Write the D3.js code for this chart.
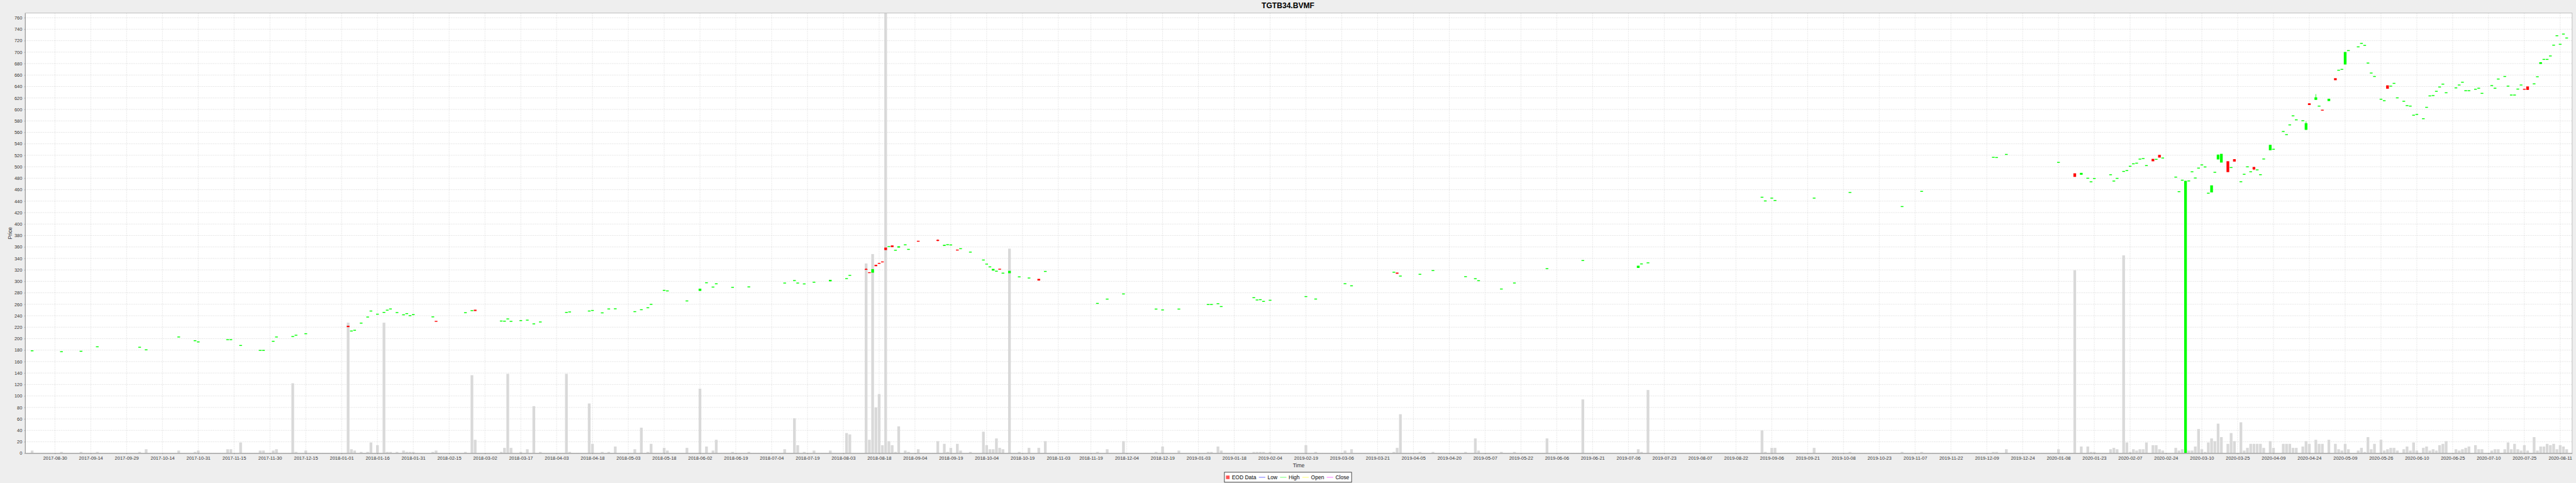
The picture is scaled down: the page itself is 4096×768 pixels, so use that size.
<!DOCTYPE html>
<html><head><meta charset="utf-8">
<script src="https://cdn.jsdelivr.net/npm/d3@7"></script>
<style>html,body{margin:0;padding:0;background:#eeeeee;overflow:hidden}</style>
</head><body><div id="chart"></div>
<script>
const chartTitle = "TGTB34.BVMF";
const xAxisTitle = "Time";
const yAxisTitle = "Price";
const legendItems = ["EOD Data", "Low", "High", "Open", "Close"];

const dates = [
"2017-08-21","2017-09-01","2017-09-11","2017-09-18","2017-10-05","2017-10-09","2017-10-23","2017-10-30","2017-10-31","2017-11-13",
"2017-11-14","2017-11-17","2017-11-27","2017-11-28","2017-12-01","2017-12-04","2017-12-11","2017-12-12","2017-12-15","2018-01-03",
"2018-01-04","2018-01-05","2018-01-09","2018-01-11","2018-01-12","2018-01-16","2018-01-18","2018-01-19","2018-01-22","2018-01-24",
"2018-01-26","2018-01-29","2018-01-30","2018-01-31","2018-02-08","2018-02-09","2018-02-22","2018-02-26","2018-02-27","2018-03-09",
"2018-03-12","2018-03-13","2018-03-14","2018-03-19","2018-03-21","2018-03-23","2018-03-27","2018-04-06","2018-04-09","2018-04-17",
"2018-04-18","2018-04-23","2018-04-25","2018-04-27","2018-05-07","2018-05-09","2018-05-11","2018-05-14","2018-05-18","2018-05-21",
"2018-05-29","2018-06-04","2018-06-06","2018-06-08","2018-06-11","2018-06-18","2018-06-25","2018-07-10","2018-07-13","2018-07-16",
"2018-07-18","2018-07-23","2018-07-30","2018-08-06","2018-08-07","2018-08-14","2018-08-15","2018-08-16","2018-08-17","2018-08-20",
"2018-08-21","2018-08-22","2018-08-23","2018-08-24","2018-08-27","2018-08-28","2018-08-30","2018-08-31","2018-09-05","2018-09-13",
"2018-09-17","2018-09-18","2018-09-19","2018-09-21","2018-09-24","2018-09-27","2018-10-03","2018-10-04","2018-10-05","2018-10-08",
"2018-10-09","2018-10-10","2018-10-11","2018-10-15","2018-10-18","2018-10-23","2018-10-26","2018-10-30","2018-11-21","2018-11-26",
"2018-12-03","2018-12-17","2018-12-19","2018-12-26","2019-01-08","2019-01-09","2019-01-11","2019-01-14","2019-01-28","2019-01-29",
"2019-01-30","2019-01-31","2019-02-04","2019-02-19","2019-02-22","2019-03-07","2019-03-11","2019-03-28","2019-03-29","2019-04-01",
"2019-04-09","2019-04-15","2019-04-29","2019-05-02","2019-05-03","2019-05-14","2019-05-20","2019-06-03","2019-06-18","2019-07-11",
"2019-07-12","2019-07-16","2019-09-03","2019-09-04","2019-09-06","2019-09-09","2019-09-25","2019-10-10","2019-11-01","2019-11-11",
"2019-12-11","2019-12-12","2019-12-17","2020-01-08","2020-01-15","2020-01-17","2020-01-21","2020-01-22","2020-01-23","2020-01-30",
"2020-01-31","2020-02-03","2020-02-05","2020-02-06","2020-02-07","2020-02-10","2020-02-11","2020-02-12","2020-02-13","2020-02-14",
"2020-02-18","2020-02-19","2020-02-20","2020-02-21","2020-02-27","2020-02-28","2020-03-02","2020-03-03","2020-03-04","2020-03-05",
"2020-03-06","2020-03-09","2020-03-10","2020-03-11","2020-03-12","2020-03-13","2020-03-16","2020-03-17","2020-03-18","2020-03-20",
"2020-03-23","2020-03-24","2020-03-26","2020-03-27","2020-03-30","2020-03-31","2020-04-01","2020-04-02","2020-04-03","2020-04-06",
"2020-04-08","2020-04-09","2020-04-14","2020-04-15","2020-04-16","2020-04-17","2020-04-20","2020-04-22","2020-04-23","2020-04-24",
"2020-04-28","2020-04-29","2020-04-30","2020-05-04","2020-05-06","2020-05-07","2020-05-08","2020-05-11","2020-05-12","2020-05-15",
"2020-05-18","2020-05-19","2020-05-20","2020-05-21","2020-05-22","2020-05-26","2020-05-27","2020-05-28","2020-05-29","2020-06-01",
"2020-06-02","2020-06-04","2020-06-05","2020-06-08","2020-06-09","2020-06-10","2020-06-12","2020-06-15","2020-06-16","2020-06-17",
"2020-06-18","2020-06-19","2020-06-22","2020-06-23","2020-06-26","2020-06-29","2020-06-30","2020-07-01","2020-07-02","2020-07-06",
"2020-07-07","2020-07-08","2020-07-13","2020-07-14","2020-07-15","2020-07-17","2020-07-20","2020-07-21","2020-07-22","2020-07-23",
"2020-07-24","2020-07-27","2020-07-28","2020-07-30","2020-07-31","2020-08-03","2020-08-04","2020-08-05","2020-08-06","2020-08-07",
"2020-08-10","2020-08-11","2020-08-12","2020-08-13"];

const open = [
178.8,177.2,178.0,185.8,185.0,180.5,202.9,196.4,194.3,198.2,
198.2,188.1,179.5,179.5,195.4,202.9,203.7,206.0,208.6,222.5,
213.3,214.6,227.1,237.7,248.2,242.7,245.8,249.7,251.8,245.5,
241.6,243.7,240.1,241.9,238.0,230.7,245.3,248.9,250.5,230.7,
230.5,234.4,230.2,231.5,232.3,225.8,229.1,245.8,246.6,248.2,
249.2,245.0,251.8,252.1,247.1,250.5,253.9,259.9,284.3,283.3,
265.8,283.3,297.5,290.0,295.7,289.5,290.3,297.0,301.4,297.0,
295.5,298.5,300.0,304.8,310.5,321.6,315.5,315.1,328.9,331.9,
334.4,358.9,360.6,362.7,354.2,358.9,363.7,355.8,370.5,372.4,
361.8,364.0,363.5,355.1,357.0,351.0,337.2,330.1,325.2,318.8,
317.7,321.7,314.3,314.2,307.8,305.8,304.3,317.3,261.5,269.0,
278.0,251.6,250.1,251.6,259.6,259.6,261.0,256.0,271.5,267.5,
268.0,265.0,267.0,273.4,269.1,295.9,292.2,315.9,315.3,309.2,
312.3,318.8,308.2,304.6,301.1,286.6,297.1,322.1,336.3,323.4,
330.4,332.3,446.8,440.3,445.2,441.1,445.2,455.0,430.5,457.0,
516.4,516.1,521.5,507.6,488.5,486.0,479.9,473.7,479.5,486.0,
475.0,479.7,491.8,493.3,500.8,505.1,506.2,513.3,514.2,502.0,
513.7,512.9,520.7,515.2,481.9,456.5,476.5,0,475.2,491.2,
480.3,497.6,503.2,499.6,453.8,455.2,490.3,512.7,507.3,509.6,
498.6,513.2,473.8,486.8,499.8,491.2,499.5,494.5,486.1,513.5,
528.7,530.5,561.5,556.0,573.0,588.8,581.8,580.3,564.4,610.7,
616.7,605.8,599.2,614.6,654.5,668.4,669.9,678.4,702.7,709.2,
715.2,711.7,680.9,663.5,657.5,617.8,615.2,642.0,640.6,645.5,
620.2,614.2,606.7,605.8,589.9,591.3,583.8,603.7,623.6,624.2,
631.6,639.1,644.1,629.1,637.6,642.6,647.5,632.6,632.6,635.1,
637.0,628.1,641.6,637.0,653.0,657.5,640.6,625.1,625.1,635.5,
642.6,635.6,640.1,644.6,657.0,679.4,687.3,687.3,693.3,712.1,
728.6,713.7,731.5,724.6];

const high = [
178.8,177.2,178.0,185.8,185.0,180.5,202.9,196.4,194.3,198.2,
198.2,188.1,179.5,179.5,195.4,202.9,203.7,206.0,208.6,222.5,
213.3,214.6,227.1,237.7,248.2,242.7,245.8,249.7,251.8,245.5,
241.6,243.7,240.1,241.9,238.0,230.7,245.3,248.9,250.5,230.7,
230.5,234.4,230.2,231.5,232.3,225.8,229.1,245.8,246.6,248.2,
249.2,245.0,251.8,252.1,247.1,250.5,253.9,259.9,284.3,283.3,
265.8,287.2,297.5,290.0,295.7,289.5,290.3,297.0,301.4,297.0,
295.5,298.5,302.6,304.8,310.5,322.9,315.5,321.3,328.9,331.9,
334.4,358.9,360.6,362.7,354.2,361.2,363.7,355.8,370.5,373.2,
363.7,364.0,363.5,355.1,357.0,351.0,337.2,330.1,325.2,321.7,
317.7,321.7,314.3,318.3,307.8,305.8,304.3,317.3,261.5,269.0,
278.0,251.6,250.1,251.6,259.6,259.6,261.0,256.0,271.5,267.5,
268.0,265.0,267.0,273.4,269.1,295.9,292.2,315.9,315.3,309.2,
312.3,318.8,308.2,304.6,301.1,286.6,297.1,322.1,336.3,327.3,
330.4,332.3,446.8,440.3,445.2,441.1,445.2,455.0,430.5,457.0,
516.4,516.1,521.5,507.6,488.5,489.3,479.9,473.7,479.5,486.0,
475.0,479.7,491.8,493.3,500.8,505.1,506.2,513.3,514.2,502.0,
513.7,512.9,520.7,515.2,481.9,456.5,476.5,475.4,475.2,491.2,
480.3,497.6,503.2,499.6,453.8,467.5,490.3,521.2,522.5,509.6,
498.6,513.2,473.8,486.8,499.8,491.2,499.5,494.5,486.1,513.5,
538.2,530.5,561.5,556.0,573.0,588.8,581.8,580.3,579.0,610.7,
626.7,605.8,599.2,618.6,654.5,668.4,669.9,700.2,702.7,709.2,
715.2,711.7,680.9,663.5,657.5,617.8,615.2,642.0,640.6,645.5,
620.2,614.2,606.7,605.8,589.9,591.3,583.8,603.7,623.6,624.2,
631.6,639.1,644.1,629.1,637.6,642.6,647.5,632.6,632.6,635.1,
637.0,628.1,641.6,637.0,653.0,657.5,640.6,625.1,625.1,635.5,
642.6,635.6,640.1,644.6,657.0,682.4,687.3,687.3,693.3,712.1,
728.6,713.7,731.5,724.6];

const low = [
178.8,177.2,178.0,185.8,185.0,180.5,202.9,196.4,194.3,198.2,
198.2,188.1,179.5,179.5,195.4,202.9,203.7,206.0,208.6,220.1,
213.3,214.6,227.1,237.7,248.2,242.7,245.8,249.7,251.8,245.5,
241.6,243.7,240.1,241.9,238.0,229.7,245.3,248.9,248.2,230.7,
230.5,234.4,230.2,231.5,232.3,225.8,229.1,245.8,246.6,248.2,
249.2,245.0,251.8,252.1,247.1,250.5,253.9,259.9,284.3,283.3,
265.8,283.3,297.5,290.0,295.7,289.5,290.3,297.0,301.4,297.0,
295.5,298.5,300.0,304.8,310.5,320.1,314.8,315.1,326.4,330.9,
333.4,354.6,360.6,359.6,354.2,358.9,363.7,355.8,369.5,370.0,
361.8,364.0,363.5,354.1,357.0,351.0,337.2,330.1,325.2,318.8,
317.7,320.7,314.3,314.2,307.8,305.8,301.4,317.3,261.5,269.0,
278.0,251.6,250.1,251.6,259.6,259.6,261.0,256.0,271.5,267.5,
268.0,265.0,267.0,273.4,269.1,295.9,292.2,315.9,313.2,309.2,
312.3,318.8,308.2,304.6,301.1,286.6,297.1,322.1,336.3,323.4,
330.4,332.3,446.8,440.3,445.2,441.1,445.2,455.0,430.5,457.0,
516.4,516.1,521.5,507.6,482.3,486.0,479.9,473.7,479.5,486.0,
475.0,479.7,491.8,493.3,500.8,505.1,506.2,513.3,514.2,502.0,
509.5,512.9,516.0,515.2,481.9,456.5,476.5,0,475.2,491.2,
480.3,497.6,503.2,499.6,453.8,455.2,490.3,512.7,507.3,490.6,
498.6,509.0,473.8,486.8,499.8,491.2,494.1,494.5,486.1,513.5,
528.7,530.5,561.5,556.0,573.0,588.8,581.8,580.3,564.4,607.7,
616.7,605.8,598.2,614.6,651.0,668.4,669.9,678.4,702.7,709.2,
715.2,711.7,680.9,663.5,657.5,617.8,615.2,636.1,640.6,645.5,
620.2,614.2,606.7,605.8,589.9,591.3,583.8,603.7,623.6,624.2,
631.6,639.1,644.1,629.1,637.6,642.6,647.5,632.6,632.6,635.1,
637.0,628.1,641.6,637.0,653.0,657.5,640.6,625.1,625.1,635.5,
642.6,634.6,634.1,644.6,657.0,679.4,687.3,687.3,693.3,712.1,
728.6,713.7,731.5,724.6];

const close = [
178.8,177.2,178.0,185.8,185.0,180.5,202.9,196.4,194.3,198.2,
198.2,188.1,179.5,179.5,195.4,202.9,203.7,206.0,208.6,220.1,
213.3,214.6,227.1,237.7,248.2,242.7,245.8,249.7,251.8,245.5,
241.6,243.7,240.1,241.9,238.0,229.7,245.3,248.9,248.2,230.7,
230.5,234.4,230.2,231.5,232.3,225.8,229.1,245.8,246.6,248.2,
249.2,245.0,251.8,252.1,247.1,250.5,253.9,259.9,284.3,283.3,
265.8,287.2,297.5,290.0,295.7,289.5,290.3,297.0,301.4,297.0,
295.5,298.5,302.6,304.8,310.5,320.1,314.8,321.3,326.4,330.9,
333.4,354.6,360.6,359.6,354.2,361.2,363.7,355.8,369.5,370.5,
363.7,364.0,363.5,354.1,357.0,351.0,337.2,330.1,325.2,321.7,
317.7,320.7,314.3,318.3,307.8,305.8,301.4,317.3,261.5,269.0,
278.0,251.6,250.1,251.6,259.6,259.6,261.0,256.0,271.5,267.5,
268.0,265.0,267.0,273.4,269.1,295.9,292.2,315.9,313.2,309.2,
312.3,318.8,308.2,304.6,301.1,286.6,297.1,322.1,336.3,327.3,
330.4,332.3,446.8,440.3,445.2,441.1,445.2,455.0,430.5,457.0,
516.4,516.1,521.5,507.6,482.3,489.3,479.9,473.7,479.5,486.0,
475.0,479.7,491.8,493.3,500.8,505.1,506.2,513.3,514.2,502.0,
509.5,512.9,516.0,515.2,481.9,456.5,476.5,475.4,475.2,491.2,
480.3,497.6,503.2,499.6,453.8,467.5,490.3,521.2,522.5,490.6,
498.6,509.0,473.8,486.8,499.8,491.2,495.3,494.5,486.1,513.5,
538.2,530.5,561.5,556.0,573.0,588.8,581.8,580.3,575.9,607.7,
621.1,605.8,598.2,618.6,651.0,668.4,669.9,700.2,702.7,709.2,
715.2,711.7,680.9,663.5,657.5,617.8,615.2,636.1,640.6,645.5,
620.2,614.2,606.7,605.8,589.9,591.3,583.8,603.7,623.6,624.2,
631.6,639.1,644.1,629.1,637.6,642.6,647.5,632.6,632.6,635.1,
637.0,628.1,641.6,637.0,653.0,657.5,640.6,625.1,625.1,635.5,
642.6,634.6,634.1,644.6,657.0,682.4,687.3,687.3,693.3,712.1,
728.6,713.7,731.5,724.6];

// volume in hundreds of shares
const volume = [
2,1,1,1,1,3,2,1,2,3,
3,8,2,2,2,3,52,1,2,97,
3,2,1,1,8,6,97,1,1,1,
2,1,1,1,1,2,1,58,10,1,
4,59,4,1,3,35,1,59,1,37,
7,1,1,5,3,19,1,7,4,2,
4,48,5,2,10,1,1,3,26,6,
1,2,2,15,14,141,10,148,34,44,
6,327,9,6,1,20,2,1,3,9,
7,1,4,7,2,1,16,6,3,3,
11,4,3,152,1,4,4,9,1,3,
9,1,5,2,1,1,5,2,1,1,
1,1,1,6,1,2,3,1,4,29,
1,1,1,11,2,1,1,11,40,3,
1,47,17,1,4,4,4,1,1,1,
1,1,3,3,136,5,5,1,1,3,
4,3,147,8,1,3,2,3,3,8,
6,6,3,2,4,2,3,3,2,2,
5,18,3,1,8,11,9,22,12,7,
15,9,23,2,4,7,7,7,7,4,
9,4,7,7,7,4,4,5,9,7,
10,7,7,10,7,3,2,7,3,2,
4,1,12,3,7,10,2,3,4,4,
2,3,5,2,8,2,4,5,2,3,
2,6,7,9,3,2,3,4,5,6,
3,3,2,3,3,3,8,3,7,3,
2,6,2,12,2,5,5,7,6,7,
3,6,5,3];

const xTickLabels = [
"2017-08-30","2017-09-14","2017-09-29","2017-10-14","2017-10-31","2017-11-15","2017-11-30","2017-12-15","2018-01-01","2018-01-16",
"2018-01-31","2018-02-15","2018-03-02","2018-03-17","2018-04-03","2018-04-18","2018-05-03","2018-05-18","2018-06-02","2018-06-19",
"2018-07-04","2018-07-19","2018-08-03","2018-08-18","2018-09-04","2018-09-19","2018-10-04","2018-10-19","2018-11-03","2018-11-19",
"2018-12-04","2018-12-19","2019-01-03","2019-01-18","2019-02-04","2019-02-19","2019-03-06","2019-03-21","2019-04-05","2019-04-20",
"2019-05-07","2019-05-22","2019-06-06","2019-06-21","2019-07-06","2019-07-23","2019-08-07","2019-08-22","2019-09-06","2019-09-21",
"2019-10-08","2019-10-23","2019-11-07","2019-11-22","2019-12-09","2019-12-24","2020-01-08","2020-01-23","2020-02-07","2020-02-24",
"2020-03-10","2020-03-25","2020-04-09","2020-04-24","2020-05-09","2020-05-26","2020-06-10","2020-06-25","2020-07-10","2020-07-25",
"2020-08-11"];
const yTickValues = [0,20,40,60,80,100,120,140,160,180,200,220,240,260,280,300,320,340,360,380,
  400,420,440,460,480,500,520,540,560,580,600,620,640,660,680,700,720,740,760];

// ---------------- layout ----------------
const W = 5760, H = 1080;
const plot = {left: 56.25, top: 29.3, right: 5751.4, bottom: 1013.5};
const FONT = "'Liberation Sans', Arial, Helvetica, sans-serif";
const UP = "#00ff00", DOWN = "#ff0000", VOL = "#d9d9d9";

const svg = d3.select("#chart").append("svg")
  .attr("width", 4096).attr("height", 768)
  .attr("viewBox", `0 0 ${W} ${H}`)
  .style("display", "block");

svg.append("rect").attr("width", W).attr("height", H).attr("fill", "#eeeeee");

// Monday-Friday segmented timeline: weekday index from Monday 2017-08-28
const tlBase = Date.UTC(2017, 7, 28);
function tIndex(s) {
  const p = s.split("-").map(Number);
  const days = Math.round((Date.UTC(p[0], p[1] - 1, p[2]) - tlBase) / 864e5);
  const w = Math.floor(days / 7);
  const r = days - 7 * w;
  return r > 4 ? 5 * (w + 1) : 5 * w + r;
}
const ks = dates.map(tIndex);

const x = d3.scaleLinear()
  .domain([d3.min(ks) - 2.14, d3.max(ks) + 1.68])
  .range([plot.left, plot.right]);
const y = d3.scaleLinear()
  .domain([0, d3.max(high) * 1.05])
  .range([plot.bottom, plot.top]);
const vH = d3.scaleLinear()
  .domain([0, d3.max(volume)])
  .range([0, plot.bottom - plot.top]);

const candleW = (20 / 24) * (x(1) - x(0));

svg.append("defs").append("clipPath").attr("id", "pclip")
  .append("rect").attr("x", plot.left).attr("y", plot.top)
  .attr("width", plot.right - plot.left).attr("height", plot.bottom - plot.top);

svg.append("rect").attr("x", plot.left).attr("y", plot.top)
  .attr("width", plot.right - plot.left).attr("height", plot.bottom - plot.top)
  .attr("fill", "#ffffff");

const g = svg.append("g").attr("clip-path", "url(#pclip)");

// grid lines
g.selectAll("line.vgrid").data(xTickLabels).join("line").attr("class", "vgrid")
  .attr("x1", d => x(tIndex(d))).attr("x2", d => x(tIndex(d)))
  .attr("y1", plot.top).attr("y2", plot.bottom)
  .attr("stroke", "#d6d6d6").attr("stroke-width", 1).attr("stroke-dasharray", "2,2");
g.selectAll("line.hgrid").data(yTickValues).join("line").attr("class", "hgrid")
  .attr("x1", plot.left).attr("x2", plot.right)
  .attr("y1", d => y(d)).attr("y2", d => y(d))
  .attr("stroke", "#d2d2d2").attr("stroke-width", 1).attr("stroke-dasharray", "2,2");

const idx = d3.range(dates.length);

// volume bars
g.selectAll("rect.vol").data(idx).join("rect").attr("class", "vol")
  .attr("x", i => x(ks[i]) - candleW / 2)
  .attr("width", candleW)
  .attr("y", i => plot.bottom - vH(volume[i]))
  .attr("height", i => vH(volume[i]))
  .attr("fill", VOL);

// wicks
const col = i => close[i] >= open[i] ? UP : DOWN;
g.selectAll("line.wick").data(idx.filter(i => high[i] > Math.max(open[i], close[i]) || low[i] < Math.min(open[i], close[i])))
  .join("line").attr("class", "wick")
  .attr("x1", i => x(ks[i])).attr("x2", i => x(ks[i]))
  .attr("y1", i => y(high[i])).attr("y2", i => y(low[i]))
  .attr("stroke", col).attr("stroke-width", 1.2);

// candle bodies
const minBody = 2;
g.selectAll("rect.body").data(idx).join("rect").attr("class", "body")
  .attr("x", i => x(ks[i]) - candleW / 2)
  .attr("width", candleW)
  .attr("y", i => {
    const t = y(Math.max(open[i], close[i])), b = y(Math.min(open[i], close[i]));
    return (b - t) < minBody ? (t + b) / 2 - minBody / 2 : t;
  })
  .attr("height", i => Math.max(minBody, y(Math.min(open[i], close[i])) - y(Math.max(open[i], close[i]))))
  .attr("fill", col);

// plot outline
svg.append("rect").attr("x", plot.left).attr("y", plot.top)
  .attr("width", plot.right - plot.left).attr("height", plot.bottom - plot.top)
  .attr("fill", "none").attr("stroke", "#a8a8a8").attr("stroke-width", 1);

// axes
const yAxis = d3.axisLeft(y).tickValues(yTickValues).tickSize(2).tickSizeOuter(0).tickPadding(4.6);
const yg = svg.append("g").attr("transform", `translate(${plot.left},0)`).call(yAxis);
const xAxis = d3.axisBottom(x).tickValues(xTickLabels.map(tIndex))
  .tickFormat((d, i) => xTickLabels[i]).tickSize(2).tickSizeOuter(0).tickPadding(4.5);
const xg = svg.append("g").attr("transform", `translate(0,${plot.bottom})`).call(xAxis);
[yg, xg].forEach(a => {
  a.select(".domain").attr("stroke", "#8c8c8c").attr("stroke-width", 1.2);
  a.selectAll(".tick line").attr("stroke", "#8c8c8c");
  a.selectAll(".tick text").attr("fill", "#333").style("font-family", FONT).style("font-size", "10.5px");
});

// axis titles
svg.append("text").attr("x", (plot.left + plot.right) / 2).attr("y", 1045)
  .attr("text-anchor", "middle").style("font-family", FONT).style("font-size", "12px")
  .attr("fill", "#333").text(xAxisTitle);
svg.append("text")
  .attr("transform", `translate(26.5,${(plot.top + plot.bottom) / 2}) rotate(-90)`)
  .attr("text-anchor", "middle").style("font-family", FONT).style("font-size", "12px")
  .attr("fill", "#333").text(yAxisTitle);

// title
svg.append("text").attr("x", W / 2).attr("y", 18.5).attr("text-anchor", "middle")
  .style("font-family", FONT).style("font-size", "17px").style("font-weight", "bold")
  .attr("fill", "#000").text(chartTitle);

// legend
const legendColors = ["#ff5555", "#5555ff", "#55ff55", "#ffff55", "#ff55ff"];
const lg = svg.append("g");
const box = lg.append("rect").attr("fill", "#ffffff").attr("stroke", "#000").attr("stroke-width", 1);
const padL = 3.5, padR = 5.5, symGap = 5, itemGap = 6;
const symY = 1067.3, textY = 1071.6;
let cx = padL;
legendItems.forEach((name, i) => {
  if (i === 0) {
    lg.append("rect").attr("x", cx).attr("y", symY - 4).attr("width", 8).attr("height", 8)
      .attr("fill", legendColors[i]);
    cx += 8 + symGap;
  } else {
    lg.append("line").attr("x1", cx).attr("x2", cx + 14.3).attr("y1", symY).attr("y2", symY)
      .attr("stroke", legendColors[i]).attr("stroke-width", 1.2);
    cx += 14.3 + symGap;
  }
  const t = lg.append("text").attr("x", cx).attr("y", textY)
    .style("font-family", FONT).style("font-size", "12px").attr("fill", "#000").text(name);
  cx += t.node().getComputedTextLength() + (i < legendItems.length - 1 ? itemGap : 0);
});
const legW = cx + padR;
box.attr("x", 0).attr("y", 1056).attr("width", legW).attr("height", 22.3);
lg.attr("transform", `translate(${W / 2 - legW / 2},0)`);
</script>
</body></html>
